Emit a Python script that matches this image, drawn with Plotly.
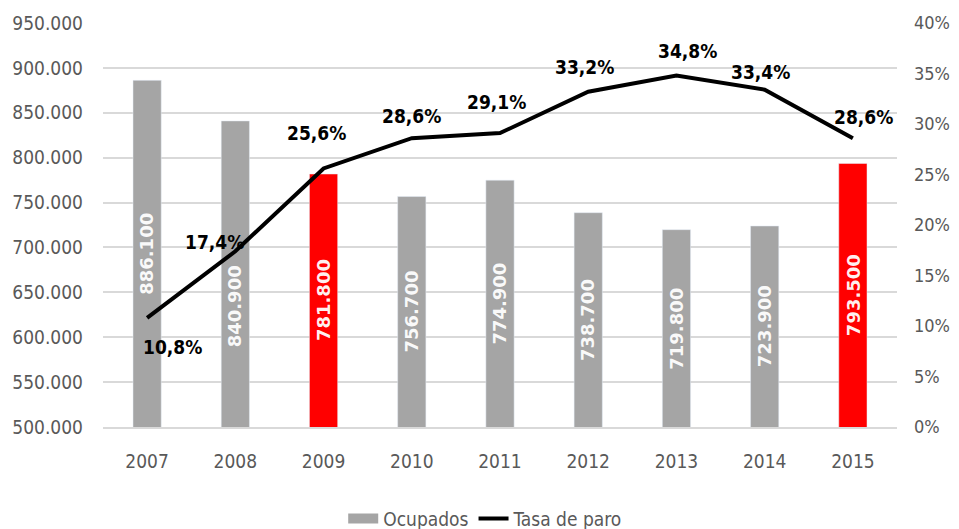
import plotly.graph_objects as go

years = ["2007", "2008", "2009", "2010", "2011", "2012", "2013", "2014", "2015"]
ocupados = [886100, 840900, 781800, 756700, 774900, 738700, 719800, 723900, 793500]
tasa_paro = [10.8, 17.4, 25.6, 28.6, 29.1, 33.2, 34.8, 33.4, 28.6]
highlight_years = ["2009", "2015"]
left_ticks = [500000, 550000, 600000, 650000, 700000, 750000, 800000, 850000, 900000, 950000]
left_tick_labels = ["500.000", "550.000", "600.000", "650.000", "700.000",
                    "750.000", "800.000", "850.000", "900.000", "950.000"]

GRAY = "#A5A5A5"
RED = "#FF0000"
TICK = "#595959"
NARROW = "DejaVu Sans Condensed, Liberation Sans Narrow, sans-serif"

bar_colors = [RED if y in highlight_years else GRAY for y in years]
bar_text = [f"{v:,}".replace(",", ".") for v in ocupados]
line_text = [f"{v:.1f}%".replace(".", ",") for v in tasa_paro]

fig = go.Figure()
fig.add_trace(go.Bar(
    x=years, y=ocupados, name="Ocupados", marker_color=bar_colors,
    width=0.32, yaxis="y", showlegend=False,
))
# legend entry for the bars (wide gray swatch)
fig.add_trace(go.Scatter(
    x=[None], y=[None], name="Ocupados", mode="lines",
    line=dict(color=GRAY, width=13), yaxis="y", hoverinfo="skip",
))
fig.add_trace(go.Scatter(
    x=years, y=tasa_paro, name="Tasa de paro", mode="lines",
    line=dict(color="black", width=4), yaxis="y2",
))

annotations = []
base = left_ticks[0]
bar_yshift = [0, -32, 0, 0, 0, 0, 0, 0, 0]
for i, (v, t, ys) in enumerate(zip(ocupados, bar_text, bar_yshift)):
    annotations.append(dict(
        x=i, y=(base + v) / 2, xref="x", yref="y", text=t, showarrow=False,
        textangle=-90, yshift=ys,
        font=dict(family="DejaVu Sans", size=18, color="rgba(255,255,255,0.95)", weight="bold"),
    ))
lx = [25, -21, -7, 0, -4, -4, 11, -4, 11]
ly = [-29, 9, 35, 22, 31, 25, 25, 18, 21]
for i, (v, t, dx, dy) in enumerate(zip(tasa_paro, line_text, lx, ly)):
    annotations.append(dict(
        x=i, y=v, xref="x", yref="y2", text=t,
        showarrow=False, xshift=dx, yshift=dy,
        font=dict(family=NARROW, size=19, color="black", weight="bold"),
    ))

fig.update_layout(
    width=951, height=521,
    margin=dict(l=95, r=62, t=15, b=102),
    paper_bgcolor="white", plot_bgcolor="white",
    font=dict(family=NARROW, size=19, color=TICK),
    xaxis=dict(
        type="category", range=[-0.5, 8.5], showgrid=False, automargin=False,
        showline=True, linecolor="#D9D9D9", linewidth=1.5,
        ticks="", tickfont=dict(size=19, color=TICK), ticklabelstandoff=16,
    ),
    yaxis=dict(
        range=[500000, 950000], tickvals=left_ticks, ticktext=left_tick_labels,
        automargin=False,
        showgrid=True, gridcolor="#D9D9D9", gridwidth=1.5, zeroline=False,
        ticks="", tickfont=dict(size=19, color=TICK), ticklabelstandoff=19,
    ),
    yaxis2=dict(
        overlaying="y", side="right", range=[0, 40], dtick=5, tick0=0,
        automargin=False,
        ticksuffix="%", showgrid=False, zeroline=False, ticks="",
        tickfont=dict(size=18, color=TICK), ticklabelstandoff=16,
    ),
    legend=dict(
        orientation="h", x=0.482, xanchor="center",
        yref="container", y=0.02, yanchor="middle",
        font=dict(size=19, color=TICK), traceorder="normal",
    ),
    showlegend=True,
    annotations=annotations,
)

fig.write_html("out.html")
